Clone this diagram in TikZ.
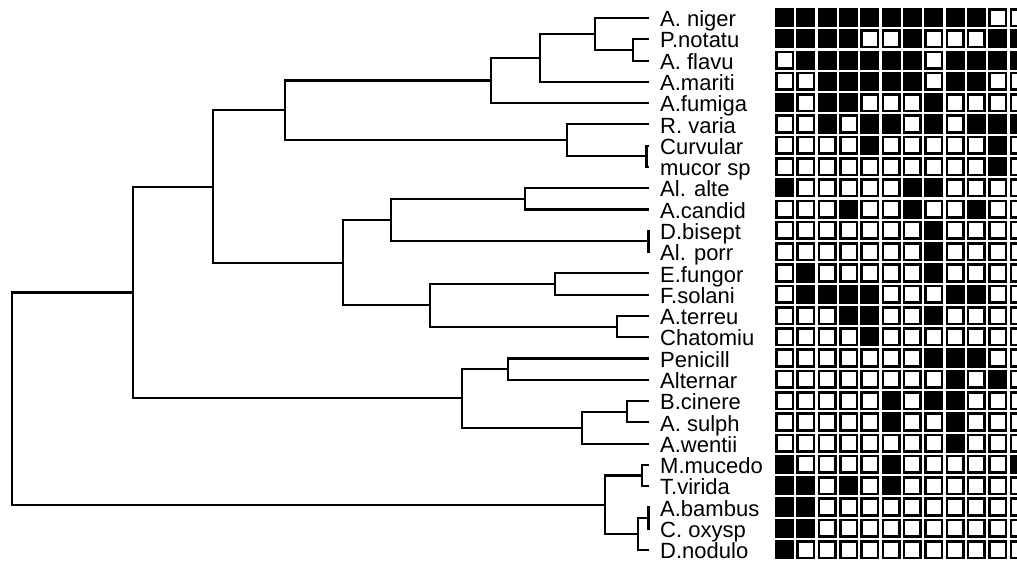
\documentclass[tikz,border=0pt]{standalone}
\usepackage{fontspec}
\setmainfont{Liberation Sans}
\begin{document}
\begin{tikzpicture}[x=1pt,y=-1pt,
  branch/.style={line width=2.1pt, line join=miter},
  lab/.style={anchor=base west, inner sep=0pt, font=\fontsize{22}{26}\selectfont},
  cellw/.style={draw=black, fill=white, line width=2.6pt},
  cellb/.style={draw=black, fill=black, line width=2.6pt}]
\useasboundingbox (0,0) rectangle (1017,562);
\fill[white] (0,0) rectangle (1017,562);
\clip (0,0) rectangle (1017,562);
% leaves and labels
\foreach \i/\t in {0/A. niger,1/P.notatu,2/A. flavu,3/A.mariti,4/A.fumiga,5/R. varia,
  6/Curvular,7/mucor sp,8/Al. alte,9/A.candid,10/D.bisept,11/Al. porr,12/E.fungor,
  13/F.solani,14/A.terreu,15/Chatomiu,16/Penicill,17/Alternar,18/B.cinere,19/A. sulph,
  20/A.wentii,21/M.mucedo,22/T.virida,23/A.bambus,24/C. oxysp,25/D.nodulo}{
  \node[lab] (t\i) at (660,{18+21.28*\i+8.7}) {\t};
  \coordinate (l\i) at (649,{18+21.28*\i});
}
% join points
\coordinate (n1) at (633,49.92);
\coordinate (n2) at (595,33.96);
\coordinate (n3) at (540,57.90);
\coordinate (n4) at (491,80.51);
\coordinate (n5) at (646.5,156.32);
\coordinate (n6) at (567,140.36);
\coordinate (n7) at (285,110.44);
\coordinate (n8) at (525,198.88);
\coordinate (n9) at (648.5,241.44);
\coordinate (n10) at (391,220.16);
\coordinate (n11) at (555,284.00);
\coordinate (n12) at (617,326.56);
\coordinate (n13) at (430,305.28);
\coordinate (n14) at (343,262.72);
\coordinate (n15) at (213,186.58);
\coordinate (n16) at (508,369.12);
\coordinate (n17) at (627,411.68);
\coordinate (n18) at (582,427.64);
\coordinate (n19) at (462,398.38);
\coordinate (n20) at (133,292.48);
\coordinate (n21) at (642,475.52);
\coordinate (n22) at (648.5,518.08);
\coordinate (n23) at (638,534.04);
\coordinate (n24) at (605,504.78);
\coordinate (root) at (12,398.63);
% dendrogram
\draw[branch] (l1) -| (n1) |- (l2);
\draw[branch] (l0) -| (n2) |- (n1);
\draw[branch] (n2) -| (n3) |- (l3);
\draw[branch] (n3) -| (n4) |- (l4);
\draw[branch] (l6) -| (n5) |- (l7);
\draw[branch] (l5) -| (n6) |- (n5);
\draw[branch] (n4) -| (n7) |- (n6);
\draw[branch] (l8) -| (n8) |- (l9);
\draw[branch] (l10) -| (n9) |- (l11);
\draw[branch] (n8) -| (n10) |- (n9);
\draw[branch] (l12) -| (n11) |- (l13);
\draw[branch] (l14) -| (n12) |- (l15);
\draw[branch] (n11) -| (n13) |- (n12);
\draw[branch] (n10) -| (n14) |- (n13);
\draw[branch] (n7) -| (n15) |- (n14);
\draw[branch] (l16) -| (n16) |- (l17);
\draw[branch] (l18) -| (n17) |- (l19);
\draw[branch] (n17) -| (n18) |- (l20);
\draw[branch] (n16) -| (n19) |- (n18);
\draw[branch] (n15) -| (n20) |- (n19);
\draw[branch] (l21) -| (n21) |- (l22);
\draw[branch] (l23) -| (n22) |- (l24);
\draw[branch] (n22) -| (n23) |- (l25);
\draw[branch] (n21) -| (n24) |- (n23);
\draw[branch] (n20) -| (root) |- (n24);
% character matrix
\foreach \r in {0,...,25}{
  \foreach \c in {0,...,11}{
    \path[cellw] ({784.5+21.33*\c-8.3},{17.6+21.28*\r-8.3}) rectangle ++(16.6,16.6);
  }
}
\foreach \r/\cs in {0/{0,1,2,3,4,5,6,7,8,9},1/{0,1,2,3,6,10,11},2/{1,2,3,4,5,6,8,9,10,11},
  3/{2,3,4,5,6,8,9},4/{0,2,3,7},5/{2,4,5,7,9,10,11},6/{4,10},7/{10},8/{0,6,7},9/{3,6,9},
  10/{7},11/{7},12/{1,7},13/{1,2,3,4,8,9},14/{3,4,7},15/{4},16/{7,8,9},17/{8,10},
  18/{5,7,8},19/{5,8},20/{8},21/{0,5,11},22/{0,1,3,5},23/{0,1},24/{0,1},25/{0}}{
  \foreach \c in \cs{
    \path[cellb] ({784.5+21.33*\c-8.3},{17.6+21.28*\r-8.3}) rectangle ++(16.6,16.6);
  }
}
\end{tikzpicture}
\end{document}
